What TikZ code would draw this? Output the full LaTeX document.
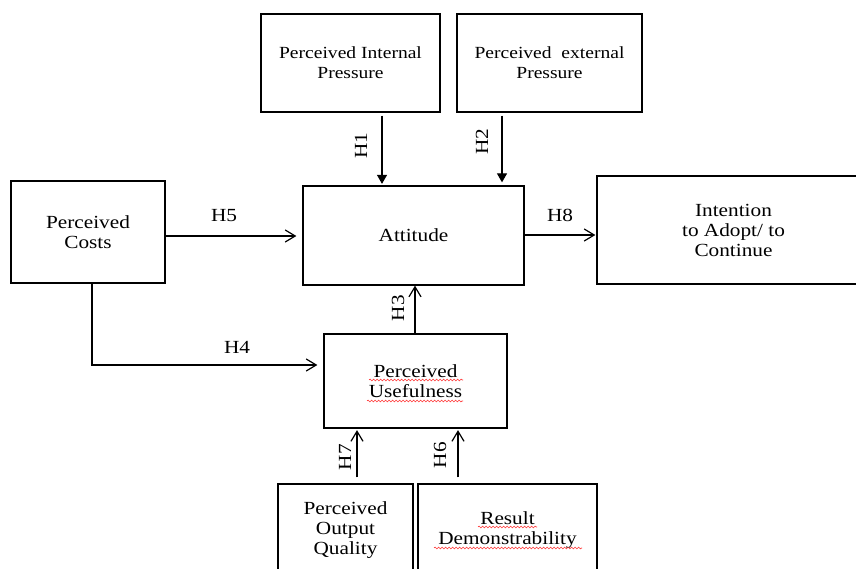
\documentclass[tikz,border=0pt]{standalone}
\usepackage{fontspec}
\setmainfont{Liberation Serif}[FakeStretch=1.15]
\usetikzlibrary{arrows.meta,decorations.pathmorphing}
\begin{document}
\begin{tikzpicture}[x=1pt,y=-1pt,
  box/.style={draw, line width=1.3pt, align=center, inner sep=0pt,
    font=\fontsize{18.5}{20}\selectfont},
  smallbox/.style={box, font=\fontsize{17}{20}\selectfont},
  link/.style={line width=1.2pt, -{Straight Barb[length=10pt,width=12pt,line width=1.2pt]}},
  solidlink/.style={line width=1.2pt, -{Triangle[length=9pt,width=10pt]}},
  hlab/.style={font=\fontsize{18.5}{20}\selectfont, inner sep=0pt},
  vlab/.style={hlab, rotate=90},
  squig/.style={draw=red!80!white, line width=0.6pt,
    decorate, decoration={snake, amplitude=0.9pt, segment length=3.5pt}}]
\useasboundingbox (0,0) rectangle (856,569);
\clip (0,0) rectangle (856,569);
\fill[white] (0,0) rectangle (856,569);

% boxes
\node[smallbox, minimum width=179pt, minimum height=98pt] (pip) at (350.5,63) {Perceived Internal\\Pressure};
\node[smallbox, minimum width=185pt, minimum height=98pt] (pep) at (549.5,63) {Perceived\ \ external\\Pressure};
\node[box, minimum width=221pt, minimum height=99pt] (att) at (413.5,235.5) {Attitude};
\node[box, minimum width=154pt, minimum height=102pt] (cost) at (88,232) {Perceived\\Costs};
\node[box, minimum width=273pt, minimum height=108pt] (int) at (733.5,230) {Intention\\to Adopt/ to\\Continue};
\node[box, minimum width=183pt, minimum height=94pt] (pu) at (415.5,381) {Perceived\\Usefulness};
\node[box, minimum width=135pt, minimum height=92pt] (poq) at (345.5,530) {Perceived\\Output\\Quality};
\node[box, minimum width=179pt, minimum height=92pt] (rd) at (507.5,530) {Result\\Demonstrability};

% spell-check squiggles
\draw[squig] (369,380) -- (463,380);
\draw[squig] (367,401) -- (463,401);
\draw[squig] (478,527) -- (537,527);
\draw[squig] (434,548) -- (582,548);

% helper coordinates
\coordinate (h1x) at (382,0);
\coordinate (h2x) at (502,0);
\coordinate (h3x) at (415,0);
\coordinate (h7x) at (357,0);
\coordinate (h6x) at (458,0);
\coordinate (h5y) at (0,236);
\coordinate (h8y) at (0,235);
\coordinate (h4c) at (92,365);

% connectors
\draw[solidlink, shorten <=3pt, shorten >=1.5pt] (pip.south -| h1x) -- (att.north -| h1x);
\draw[solidlink, shorten <=3pt, shorten >=3pt] (pep.south -| h2x) -- (att.north -| h2x);
\draw[link, shorten >=6pt] (cost.east |- h5y) -- (att.west |- h5y);
\draw[link, shorten >=1pt] (att.east |- h8y) -- (int.west |- h8y);
\draw[link] (pu.north -| h3x) -- (att.south -| h3x);
\draw[link, shorten >=6pt] (cost.south -| h4c) -- (h4c) -- (pu.west |- h4c);
\draw[link, shorten <=6pt, shorten >=1.5pt] (poq.north -| h7x) -- (pu.south -| h7x);
\draw[link, shorten <=6pt, shorten >=1.5pt] (rd.north -| h6x) -- (pu.south -| h6x);

% labels
\node[vlab] (l1) at (361,146) {H1};
\node[vlab] (l2) at (482,142) {H2};
\node[vlab] (l3) at (398,308) {H3};
\node[hlab] (l4) at (237,347) {H4};
\node[hlab] (l5) at (224,216) {H5};
\node[vlab] (l6) at (440,455) {H6};
\node[vlab] (l7) at (345,457) {H7};
\node[hlab] (l8) at (560,215) {H8};
\end{tikzpicture}
\end{document}
